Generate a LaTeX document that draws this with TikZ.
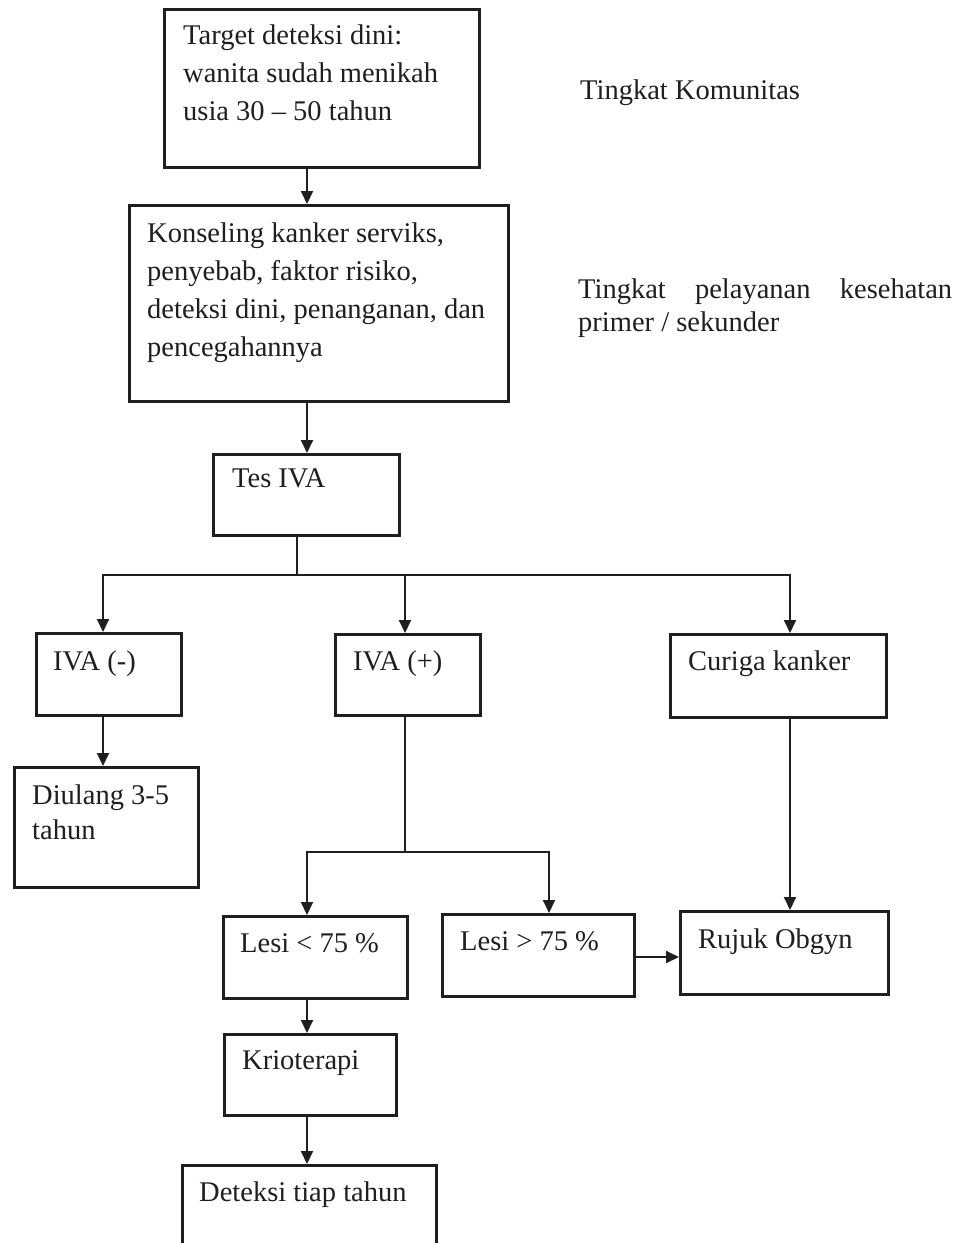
\documentclass[tikz,border=0pt]{standalone}
\usepackage{fontspec}
\setmainfont{Liberation Serif}
\usetikzlibrary{arrows.meta}
\definecolor{ink}{gray}{0.12}
\begin{document}
\begin{tikzpicture}[x=1pt,y=-1pt,
  box/.style={draw=ink, line width=2.6pt, inner sep=0pt, anchor=north west},
  txt/.style={anchor=base west, inner sep=0pt, text=ink, align=left,
              font=\fontsize{28.5}{38}\selectfont},
  link/.style={draw=ink, line width=1.9pt},
  arr/.style={link, -{Triangle[length=13pt,width=12pt]}}]

\useasboundingbox (0,0) rectangle (957,1243);
\clip (0,0) rectangle (957,1243);
\fill[white] (0,0) rectangle (957,1243);

% column guides for the connectors
\coordinate (cA) at (103,0);
\coordinate (cB) at (405,0);
\coordinate (cC) at (790,0);
\coordinate (cD) at (307,0);
\coordinate (cE) at (549,0);
\coordinate (cF) at (297,0);
\coordinate (cG) at (0,957);
\coordinate (j1) at (297,575);
\coordinate (j2) at (405,852);

% boxes
\node[box, minimum width=315pt, minimum height=158pt] (b1) at (163,8) {};
\node[box, minimum width=379pt, minimum height=196pt] (b2) at (128,204) {};
\node[box, minimum width=186pt, minimum height=81pt] (tes) at (212,453) {};
\node[box, minimum width=145pt, minimum height=82pt] (neg) at (35,632) {};
\node[box, minimum width=145pt, minimum height=81pt] (pos) at (334,633) {};
\node[box, minimum width=216pt, minimum height=83pt] (cur) at (669,633) {};
\node[box, minimum width=184pt, minimum height=120pt] (diul) at (13,766) {};
\node[box, minimum width=184pt, minimum height=82pt] (lkecil) at (222,915) {};
\node[box, minimum width=192pt, minimum height=82pt] (lbesar) at (441,913) {};
\node[box, minimum width=208pt, minimum height=83pt] (rujuk) at (679,910) {};
\node[box, minimum width=172pt, minimum height=81pt] (krio) at (223,1033) {};
\node[box, minimum width=254pt, minimum height=110pt] (det) at (181,1164) {};

% texts (multi-line nodes sit on the baseline of their last line)
\node[txt] (t1) at (183,120) {Target deteksi dini:\\wanita sudah menikah\\usia 30 – 50 tahun};
\node[txt] (t2) at (147,356) {Konseling kanker serviks,\\penyebab, faktor risiko,\\deteksi dini, penanganan, dan\\pencegahannya};
\node[txt] (ttes) at (232,487) {Tes IVA};
\node[txt] (tneg) at (53,670) {IVA (-)};
\node[txt] (tpos) at (353,670) {IVA (+)};
\node[txt] (tcur) at (688,670) {Curiga kanker};
\node[txt, font=\fontsize{28.5}{35}\selectfont] (tdiul) at (32,839) {Diulang 3-5\\tahun};
\node[txt] (tlk) at (240,952) {Lesi < 75 \%};
\node[txt] (tlb) at (460,950) {Lesi > 75 \%};
\node[txt] (trj) at (698,948) {Rujuk Obgyn};
\node[txt] (tkr) at (242,1069) {Krioterapi};
\node[txt] (tdt) at (199,1201) {Deteksi tiap tahun};
\node[txt] (tkom) at (580,99) {Tingkat Komunitas};
\node[txt, font=\fontsize{28.5}{33}\selectfont] (tpel) at (578,331)
  {\makebox[374pt][s]{Tingkat pelayanan kesehatan}\\primer / sekunder};

% connectors
\draw[arr] (b1.south -| cD) -- (b2.north -| cD);
\draw[arr] (b2.south -| cD) -- (tes.north -| cD);
\draw[link] (tes.south -| cF) -- (j1);
\draw[arr] (j1) -| (neg.north -| cA);
\draw[arr] (j1) -| (pos.north -| cB);
\draw[arr] (j1) -| (cur.north -| cC);
\draw[arr] (neg.south -| cA) -- (diul.north -| cA);
\draw[link] (pos.south -| cB) -- (j2);
\draw[arr] (j2) -| (lkecil.north -| cD);
\draw[arr] (j2) -| (lbesar.north -| cE);
\draw[arr] (cur.south -| cC) -- (rujuk.north -| cC);
\draw[arr] (lbesar.east |- cG) -- (rujuk.west |- cG);
\draw[arr] (lkecil.south -| cD) -- (krio.north -| cD);
\draw[arr] (krio.south -| cD) -- (det.north -| cD);
\end{tikzpicture}
\end{document}
